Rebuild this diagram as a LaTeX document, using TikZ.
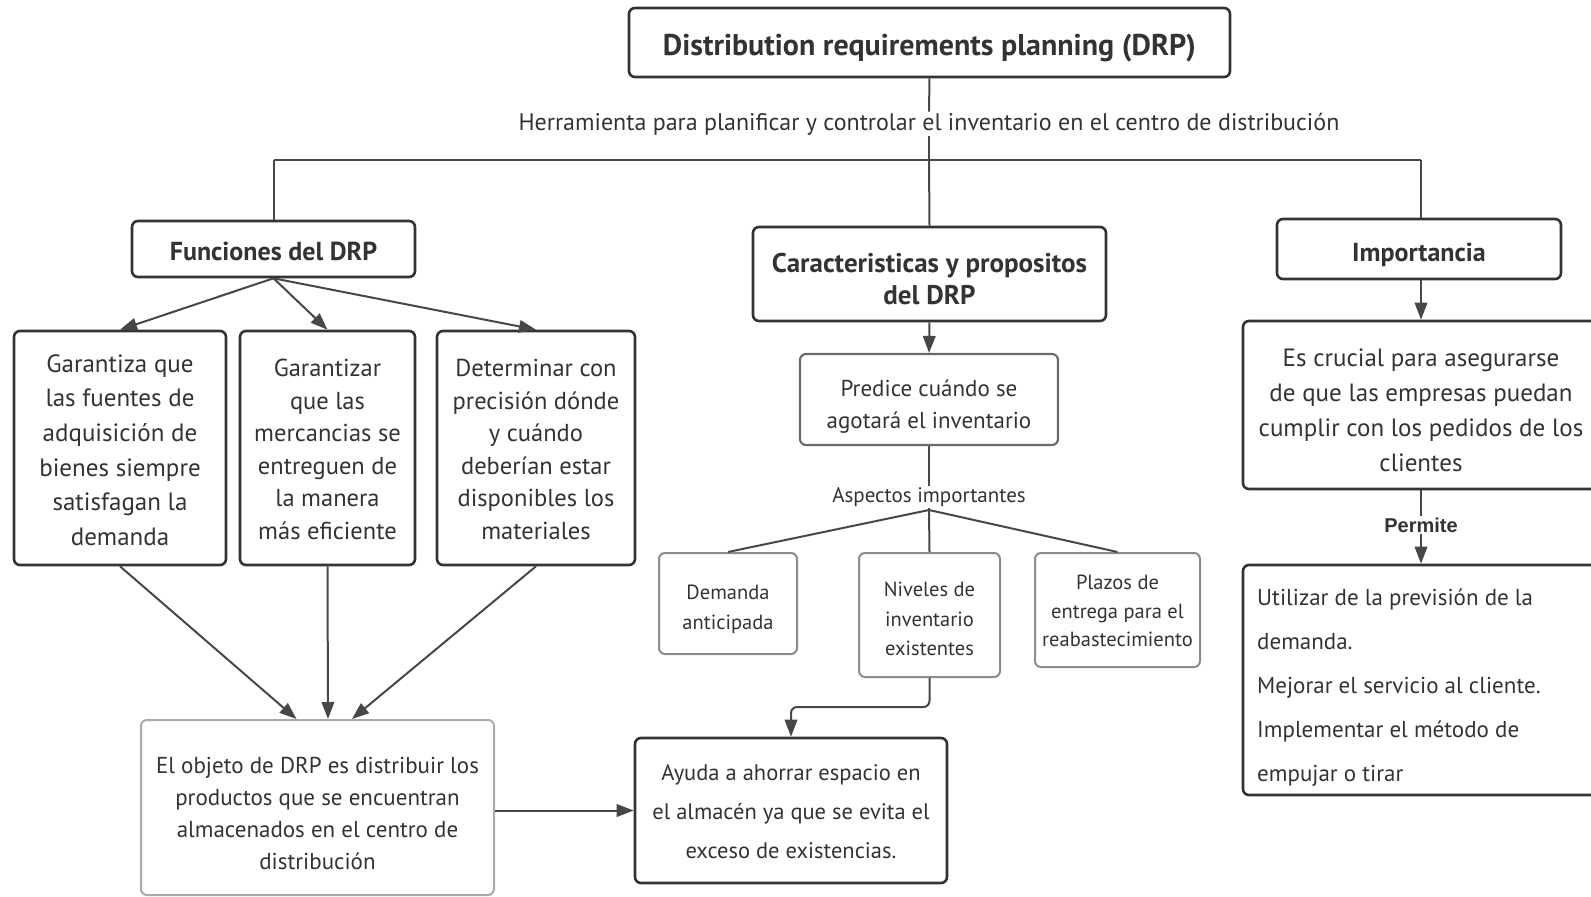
\documentclass[tikz,border=0pt]{standalone}
\usepackage{fontspec}
\setmainfont{PT Sans}
\newfontfamily\tagfont{Liberation Sans}
\usetikzlibrary{arrows.meta}
\definecolor{ink}{HTML}{333333}
\definecolor{edge}{HTML}{474747}
\definecolor{mid}{HTML}{6A6A6A}
\definecolor{soft}{HTML}{8C8C8C}
\definecolor{pale}{HTML}{AAAAAA}
\newcommand\fsz[2]{\fontsize{#1}{#2}\selectfont}
\tikzset{
  card/.style={draw=ink, line width=2.6pt, rounded corners=6pt, fill=white, inner sep=0pt},
  midcard/.style={card, draw=mid, line width=2.2pt},
  softcard/.style={card, draw=soft, line width=2pt},
  palecard/.style={card, draw=pale, line width=2pt},
  txt/.style={align=center, text=ink, inner sep=0pt},
  link/.style={draw=edge, line width=2pt},
  arr/.style={link, -{Triangle[length=17pt,width=12.5pt]}},
  note/.style={text=ink, inner sep=1pt, fill=white},
}
\begin{document}
\begin{tikzpicture}[x=1pt,y=-1pt]
\fill[white] (0,0) rectangle (1591,897);
\useasboundingbox (0,0) rectangle (1591,897);

% top level
\node[card, minimum width=601pt, minimum height=69pt] (title) at (929.5,42.5) {};
\node[txt, font=\fsz{30}{34}\bfseries] (title-t) at ([yshift=-6pt]title.center)
  {Distribution requirements planning (DRP)};
\node[note, font=\fsz{24}{28}] (herr) at (929,124)
  {Herramienta para planificar y controlar el inventario en el centro de distribución};
\coordinate (hmid) at (929,160);
\coordinate (hleft) at (273.5,160);
\coordinate (hright) at (1421,160);

% second level
\node[card, minimum width=283pt, minimum height=56pt] (fun) at (273.5,249) {};
\node[txt, font=\fsz{26}{30}\bfseries] (fun-t) at ([yshift=-2pt]fun.center) {Funciones del DRP};
\node[card, minimum width=353pt, minimum height=94pt] (car) at (929.5,274) {};
\node[txt, font=\fsz{27}{32.5}\bfseries] (car-t) at ([yshift=-5pt]car.center)
  {Caracteristicas y propositos\\ del DRP};
\node[card, minimum width=284pt, minimum height=60pt] (imp) at (1419,249) {};
\node[txt, font=\fsz{26}{30}\bfseries] (imp-t) at ([yshift=-6pt]imp.center) {Importancia};

% functions
\node[card, minimum width=212pt, minimum height=234pt] (g1) at (120,448) {};
\node[txt, font=\fsz{25}{34.7}] (g1-t) at ([yshift=-2pt]g1.center)
  {Garantiza que\\ las fuentes de\\ adquisición de\\ bienes siempre\\ satisfagan la\\ demanda};
\node[card, minimum width=175pt, minimum height=234pt] (g2) at (327.5,448) {};
\node[txt, font=\fsz{24.5}{32.6}] (g2-t) at ([yshift=-1.5pt]g2.center)
  {Garantizar\\ que las\\ mercancias se\\ entreguen de\\ la manera\\ más eficiente};
\node[card, minimum width=198pt, minimum height=234pt] (g3) at (536,448) {};
\node[txt, font=\fsz{24.5}{32.6}] (g3-t) at ([yshift=-1.5pt]g3.center)
  {Determinar con\\ precisión dónde\\ y cuándo\\ deberían estar\\ disponibles los\\ materiales};
\node[palecard, minimum width=353pt, minimum height=175pt] (obj) at (317.5,807.5) {};
\node[txt, font=\fsz{23}{32}] (obj-t) at ([yshift=-6pt]obj.center)
  {El objeto de DRP es distribuir los\\ productos que se encuentran\\ almacenados en el centro de\\ distribución};

% characteristics
\node[midcard, minimum width=258pt, minimum height=91pt] (pred) at (929,399.5) {};
\node[txt, font=\fsz{23}{31.5}] (pred-t) at ([yshift=-7pt]pred.center)
  {Predice cuándo se\\ agotará el inventario};
\node[note, font=\fsz{21}{24}] (asp) at (929,497) {Aspectos importantes};
\coordinate (fork) at (929,510);
\node[softcard, minimum width=138pt, minimum height=101pt] (dem) at (728,603.5) {};
\node[txt, font=\fsz{20.5}{29.5}] (dem-t) at ([yshift=-6pt]dem.center) {Demanda\\ anticipada};
\node[softcard, minimum width=141pt, minimum height=124pt] (niv) at (929.5,615) {};
\node[txt, font=\fsz{20.5}{29.5}] (niv-t) at ([yshift=-4pt]niv.center) {Niveles de\\ inventario\\ existentes};
\node[softcard, minimum width=165pt, minimum height=114pt] (plz) at (1117.5,610) {};
\node[txt, font=\fsz{20.5}{28.5}] (plz-t) at ([yshift=-1pt]plz.center)
  {Plazos de\\ entrega para el\\ reabastecimiento};
\node[card, minimum width=312pt, minimum height=145pt] (ayu) at (791,810.5) {};
\node[txt, font=\fsz{22.5}{39}] (ayu-t) at ([yshift=-1.5pt]ayu.center)
  {Ayuda a ahorrar espacio en\\ el almacén ya que se evita el\\ exceso de existencias.};
\coordinate (bend1) at (929.5,707);
\coordinate (bend2) at (791,707);

% importance
\node[card, minimum width=356pt, minimum height=168pt] (esc) at (1421,405) {};
\node[txt, font=\fsz{25}{35}] (esc-t) at ([yshift=-5pt]esc.center)
  {Es crucial para asegurarse\\ de que las empresas puedan\\ cumplir con los pedidos de los\\ clientes};
\node[note, font=\tagfont\fsz{20}{22}\bfseries] (perm) at (1421,525) {Permite};
\node[card, minimum width=356pt, minimum height=230pt] (util) at (1421,680) {};
\node[anchor=west, align=left, text=ink, inner sep=0pt, font=\fsz{23}{44}] (util-t) at (1257,688)
  {Utilizar de la previsión de la\\ demanda.\\ Mejorar el servicio al cliente.\\ Implementar el método de\\ empujar o tirar};

% connectors
\draw[link] (title.south) -- (herr.north);
\draw[link] (herr.south) -- (hmid);
\draw[link] (hleft) -- (hright);
\draw[link] (hleft) -- (fun.north);
\draw[link] (hmid) -- (car.north);
\draw[link] (hright) -- (imp.north -| hright);

\draw[arr] (fun.south) -- (g1.north);
\draw[arr] (fun.south) -- (g2.north);
\draw[arr] (fun.south) -- (g3.north);
\draw[arr] (g1.south) -- ([xshift=-21pt]obj.north);
\draw[arr] (g2.south) -- ([xshift=10.5pt]obj.north);
\draw[arr] (g3.south) -- ([xshift=34.5pt]obj.north);
\draw[arr] (obj.east |- ayu.west) -- (ayu.west);

\draw[arr] (car.south) -- (pred.north);
\draw[link] (pred.south) -- (asp.north);
\draw[link] (asp.south) -- (fork);
\draw[link] (fork) -- (dem.north);
\draw[link] (fork) -- (niv.north);
\draw[link] (fork) -- (plz.north);
\draw[arr, rounded corners=6pt] (niv.south) -- (bend1) -- (bend2) -- (ayu.north);

\draw[arr] (imp.south -| esc.north) -- (esc.north);
\draw[link] (esc.south) -- (perm.north);
\draw[arr] (perm.south) -- (util.north);
\end{tikzpicture}
\end{document}
